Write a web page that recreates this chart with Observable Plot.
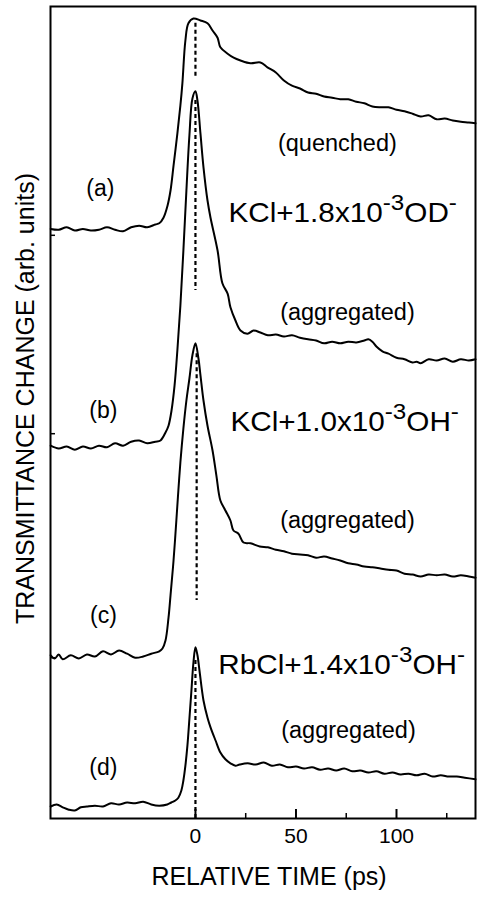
<!DOCTYPE html>
<html>
<head>
<meta charset="utf-8">
<script src="https://cdn.jsdelivr.net/npm/d3@7"></script>
<script src="https://cdn.jsdelivr.net/npm/@observablehq/plot@0.6"></script>
<style>
  html, body { margin: 0; padding: 0; background: #fff; }
  #chart svg { display: block; }
</style>
</head>
<body>
<div id="chart"></div>
<script>
// ---- data: relative time (ps) vs transmittance change (arb. units, traces offset) ----
const curveA = [
  [-72,73.7],[-68,73.6],[-64,73.9],[-60,73.5],[-56,73.7],[-52,73.5],[-48,73.6],[-44,73.9],[-40,73.6],
  [-36,73.4],[-32,73.9],[-28,74.1],[-24,73.9],[-20,74.25],[-18,74.4],[-15.9,75.1],[-13.9,76.6],[-12.4,78.5],
  [-10.9,81.6],[-9,85.6],[-7.5,89.1],[-6.5,91.9],[-5,97.25],[-3.5,99.4],[-1,100],[2.5,99.75],[6,99.4],
  [8.5,98.5],[11,97.6],[12.4,96.4],[16,95.6],[19,95.1],[22.4,94.75],[27.4,94.4],[32.3,94.5],[35.8,93.9],
  [40,93.25],[44,92.25],[48,91.6],[52,91.25],[56,90.75],[60,90.6],[64,90.25],[68,90.1],[72,89.9],[76,89.9],
  [80,89.6],[84,89.4],[88,89],[92,88.9],[96,88.9],[100,88.6],[104,88.4],[108,88.1],[112,87.75],[116,87.9],
  [120,87.4],[124,87.5],[128,87.25],[132,87.1],[136,87],[139.3,86.9]
];
const curveB = [
  [-72,46.6],[-68,46.25],[-64,46.5],[-60,46.1],[-56,46.5],[-52,46.25],[-48,46.6],[-44,46.4],[-40,46.9],
  [-36,46.6],[-32,47.1],[-28,47.25],[-24,46.9],[-20,47.1],[-17.4,47.25],[-14.9,48.25],[-13.4,49.1],[-11.9,51],
  [-10.4,54.1],[-9,58.5],[-7.5,64.1],[-6,71],[-4.5,78.5],[-3,85.4],[-1.5,90],[0,90.9],
  [1,89.75],[2.5,85.6],[4,81.4],[6,77.25],[7.5,75.1],[11,71],[13.4,66.9],[16,65.6],[17.4,63.9],
  [19.9,62.25],[22.4,61],[25.9,60.6],[28.9,61],[32.3,60.75],[36,60.4],[40,60.5],[44,60.25],[48,60.4],
  [52,60.1],[56,59.9],[60,59.75],[64,59.4],[68,59.6],[72,59.4],[76,59.6],[80,59.5],[84,59.75],[86,59.9],
  [88,59.6],[90,59],[93,58.4],[96,58.1],[100,57.6],[104,57.4],[108,57],[110,57.1],[112,56.9],[116,57.4],
  [120,57.25],[124,57.5],[128,57.1],[132,57.4],[136,57.25],[139.3,57.4]
];
const curveC = [
  [-72,20.4],[-70,20],[-68,20.5],[-66,19.9],[-62,20.4],[-58,20],[-54,20.5],[-50,20.25],[-46,20.9],
  [-42,20.5],[-38,21],[-34,20.6],[-30,20.1],[-26,20.25],[-22,20.6],[-18,20.9],[-16.4,21.25],[-14.9,22.25],
  [-13.4,25.1],[-12.4,27.9],[-10.9,32.25],[-9.5,37.25],[-8.5,41],[-7.5,44.5],[-6,48.75],[-4.5,52.25],
  [-3,55],[-1.5,57.9],[0,59.4],[1.5,57.5],[2.5,55.4],[4,52.25],[6,49.1],[8.5,46],[10.4,42.9],[12.4,39.75],
  [14.9,38.5],[17.4,37.25],[18.9,36],[21.4,35.6],[23.9,34.5],[27.4,34.4],[32,34],[36,33.9],[40,33.6],
  [44,33.4],[48,33.1],[52,33],[56,32.9],[60,32.6],[64,32.75],[68,32.5],[72,32.25],[76,31.9],[80,31.75],
  [84,31.5],[88,31.4],[92,31.25],[96,31.1],[100,31],[104,30.6],[108,30.5],[112,30.25],[116,30.5],
  [120,30.4],[124,30.5],[128,30.25],[132,30.4],[136,30.25],[139.3,30.1]
];
const curveD = [
  [-72,1.5],[-69,1.75],[-66,1.4],[-63,1.1],[-60,1],[-57,1.4],[-54,1.5],[-50,1.6],[-46,1.5],[-42,1.9],
  [-38,1.75],[-34,2],[-30,1.9],[-26,2.1],[-22,1.75],[-18,1.6],[-14,1.75],[-12,2],[-10,2.25],[-8.5,2.6],
  [-7,3.5],[-6,4.75],[-5,6.6],[-4,9.1],[-3,12.5],[-2,16],[-1,19.5],[0,21.4],[1,20.4],[2,18.5],[4,14.75],
  [6,12.6],[7.5,11.4],[10,9.75],[12.4,8.25],[14.9,7.4],[17.4,6.9],[19.9,6.6],[22,6.75],[26,6.9],[30,6.75],
  [34,7],[38,6.6],[42,6.75],[46,6.4],[50,6.5],[54,6.25],[58,6.4],[62,6.1],[66,6.25],[70,6],[74,6.25],
  [78,5.9],[82,6],[86,5.75],[90,5.9],[94,5.6],[98,5.75],[102,5.5],[106,5.6],[110,5.4],[114,5.6],[118,5.25],
  [122,5.4],[126,5.25],[130,5.25],[134,5.1],[139.3,4.9]
];

// dashed markers at t = 0 (top and bottom of each dashed segment)
const dashTime = [0, 0, 0.6, 0];
const dashTop = [99.4, 89.75, 58.1, 19.75];
const dashBottom = [92.6, 66, 27.25, 0];

// zero-level marks on the left axis
const zeroLevels = [72.9, 48.1, 20.1];

// axis
const xDomain = [-72.1, 139.3];
const yDomain = [0, 101.5];
const majorTicks = [0, 50, 100];
const minorTicks = [25, 75, 125];
const xLabel = "RELATIVE TIME (ps)";
const yLabel = "TRANSMITTANCE CHANGE (arb. units)";

// trace letters
const letterText = ["(a)", "(b)", "(c)", "(d)"];
const letterT = [-47.3, -45.8, -45.8, -45.8];
const letterY = [78.75, 51, 25.4, 6.4];

// state annotations
const stateText = ["(quenched)", "(aggregated)", "(aggregated)", "(aggregated)"];
const stateT = [70.6, 75.6, 75.6, 76.1];
const stateY = [84.4, 63.25, 37.25, 11];

// sample labels (main + superscript exponent + ion + superscript charge)
const sampleMain = ["KCl+1.8x10", "KCl+1.0x10", "RbCl+1.4x10"];
const sampleExp = ["-3", "-3", "-3"];
const sampleIon = ["OD", "OH", "OH"];
const sampleCharge = ["-", "-", "-"];
const sampleT = [16.4, 17.4, 11.4];
const sampleY = [75.6, 49.5, 19.2];

// ---- build ----
const W = 484, H = 897;
const mL = 50, mR = 9, mT = 6, mB = 79;
const frameW = W - mL - mR, frameH = H - mT - mB;

const dashes = dashTime.map((t, i) => ({t, y1: dashTop[i], y2: dashBottom[i]}));
const letters = letterText.map((s, i) => ({s, t: letterT[i], y: letterY[i]}));
const states = stateText.map((s, i) => ({s, t: stateT[i], y: stateY[i]}));
const samples = sampleMain.map((m, i) => ({
  full: m + sampleExp[i] + sampleIon[i] + sampleCharge[i],
  main: m, exp: sampleExp[i], ion: sampleIon[i], charge: sampleCharge[i],
  t: sampleT[i], y: sampleY[i]
}));

const lineOpts = {x: d => d[0], y: d => d[1], stroke: "black", strokeWidth: 2, curve: "catmull-rom"};

const svg = Plot.plot({
  width: W, height: H,
  marginLeft: mL, marginRight: mR, marginTop: mT, marginBottom: mB,
  style: {fontFamily: "'Liberation Sans', Arial, Helvetica, sans-serif", background: "white", color: "black"},
  x: {domain: xDomain},
  y: {domain: yDomain, axis: null},
  marks: [
    Plot.frame({stroke: "black", strokeWidth: 2}),
    Plot.tickX(majorTicks, {x: d => d, insetTop: frameH - 9, stroke: "black", strokeWidth: 2}),
    Plot.tickX(minorTicks, {x: d => d, insetTop: frameH - 5, stroke: "black", strokeWidth: 1.5}),
    Plot.tickY(zeroLevels, {y: d => d, insetRight: frameW - 5, stroke: "black", strokeWidth: 1.5}),
    Plot.axisX({ticks: majorTicks, tickSize: 0, tickPadding: 10, fontSize: 21, label: null}),
    Plot.ruleX(dashes, {x: "t", y1: "y1", y2: "y2", stroke: "black", strokeWidth: 2.2, strokeDasharray: "4,3"}),
    Plot.line(curveA, lineOpts),
    Plot.line(curveB, lineOpts),
    Plot.line(curveC, lineOpts),
    Plot.line(curveD, lineOpts),
    Plot.text(letters, {x: "t", y: "y", text: "s", fontSize: 23, fill: "black"}),
    Plot.text(states, {x: "t", y: "y", text: "s", fontSize: 23.5, fill: "black"}),
    Plot.text(samples, {x: "t", y: "y", text: "full", fontSize: 27, textAnchor: "start", fill: "black"}),
    Plot.text([xLabel], {frameAnchor: "bottom", text: d => d, dy: 66, dx: 6, fontSize: 25, fill: "black"}),
    Plot.text([yLabel], {frameAnchor: "left", text: d => d, rotate: -90, textAnchor: "middle", dx: -25, dy: -14, fontSize: 25, fill: "black"})
  ]
});

// rebuild sample labels with raised superscripts, slightly widened like the original lettering
const NS = "http://www.w3.org/2000/svg";
svg.querySelectorAll("text").forEach(el => {
  const s = samples.find(d => d.full === el.textContent);
  if (!s) return;
  el.textContent = "";
  const parts = [
    {txt: s.main, size: 27, dy: 0},
    {txt: s.exp, size: 22, dy: -12},
    {txt: s.ion, size: 27, dy: 12},
    {txt: s.charge, size: 22, dy: -12}
  ];
  parts.forEach(p => {
    const ts = document.createElementNS(NS, "tspan");
    ts.setAttribute("font-size", p.size);
    if (p.dy) ts.setAttribute("dy", p.dy);
    ts.textContent = p.txt;
    el.appendChild(ts);
  });
  const tr = el.getAttribute("transform");
  if (tr) {
    el.setAttribute("transform", tr + " scale(1.1,1)");
  } else {
    const x = +el.getAttribute("x") || 0, y = +el.getAttribute("y") || 0;
    el.setAttribute("transform", `translate(${x},${y}) scale(1.1,1) translate(${-x},${-y})`);
  }
});

document.getElementById("chart").appendChild(svg);
</script>
</body>
</html>
